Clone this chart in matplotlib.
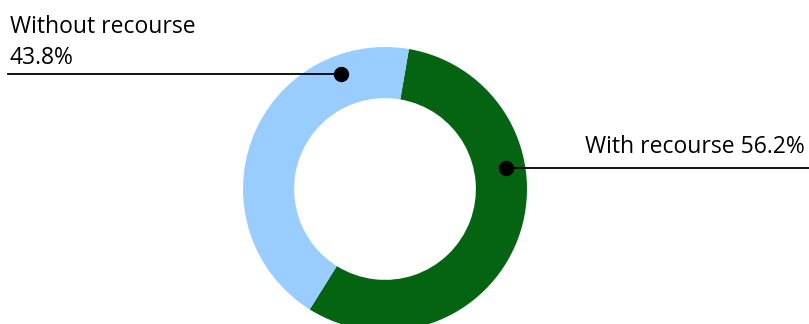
import numpy as np
import matplotlib.pyplot as plt

labels = ['With recourse', 'Without recourse']
shares = [56.2, 43.8]
colors = ['#056411', '#99ccff']

plt.rcParams['font.family'] = ['Open Sans', 'DejaVu Sans']

W, H = 809, 324
fig = plt.figure(figsize=(W / 100, H / 100), dpi=100)
ax = fig.add_axes([0, 0, 1, 1])

cx, cy, r = 385, H - 189, 142
start = 80.3
ax.pie(shares, colors=colors, startangle=start, counterclock=False,
       center=(cx, cy), radius=r, frame=True,
       wedgeprops=dict(width=r * 0.36, linewidth=0))

# leader dots (angle in degrees, pixel radius) and label placement
dot_ang = [9.8, 111.0]
dot_r = 123
line_end = [W, 8]
for i, (lab, val) in enumerate(zip(labels, shares)):
    a = np.deg2rad(dot_ang[i])
    dx, dy = cx + dot_r * np.cos(a), cy + dot_r * np.sin(a)
    ax.plot([dx, line_end[i]], [dy, dy], color='black', lw=1.3, zorder=3)
    ax.plot(dx, dy, 'o', color='black', ms=10, zorder=4)
    if i == 0:
        ax.text(line_end[i] - 4, dy + 15, f'{lab} {val}%', ha='right', va='baseline',
                fontsize=16.5)
    else:
        ax.text(10, dy + 10, f'{lab}\n{val}%', ha='left', va='baseline',
                fontsize=16.5, linespacing=1.42)

ax.set_xlim(0, W)
ax.set_ylim(0, H)
ax.set_aspect('auto')
ax.axis('off')
fig.savefig('out.png', dpi=100)
